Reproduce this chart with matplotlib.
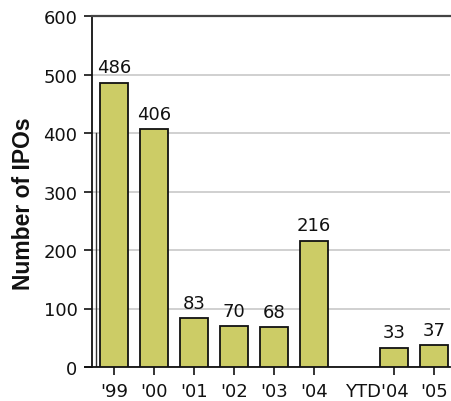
import matplotlib
matplotlib.use("Agg")
import matplotlib.pyplot as plt
import matplotlib.transforms as mtransforms

# IPO counts by year
categories = ["'99", "'00", "'01", "'02", "'03", "'04", "YTD'04", "'05"]
positions = [0, 1, 2, 3, 4, 5, 7, 8]
ipo_counts = [486, 406, 83, 70, 68, 216, 33, 37]
y_ticks = [0, 100, 200, 300, 400, 500, 600]

fig = plt.figure(figsize=(4.51, 4.02), dpi=100)
ax = fig.add_axes([92 / 451, 1 - 368 / 402, (450 - 92) / 451, (368 - 17) / 402])

bars = ax.bar(positions, ipo_counts, width=0.7, color="#CCCC66",
              edgecolor="#111111", linewidth=1.3, zorder=3)

for x, v in zip(positions, ipo_counts):
    ax.annotate(str(v), (x, v), xytext=(0, 4.5), textcoords="offset points",
                ha="center", va="bottom", fontsize=13, color="#111111")

ax.set_xlim(-0.55, 8.4)
ax.set_ylim(0, 600)
ax.set_yticks(y_ticks)
ax.set_xticks(positions)
ax.set_xticklabels(categories)

ax.yaxis.grid(True, color="#c8c8c8", linewidth=1.2, zorder=0)
ax.set_axisbelow(True)

ax.spines["right"].set_visible(False)
ax.spines["top"].set_color("#444444")
ax.spines["top"].set_linewidth(1.6)
ax.spines["left"].set_color("#111111")
ax.spines["left"].set_linewidth(1.3)
ax.spines["bottom"].set_color("#111111")
ax.spines["bottom"].set_linewidth(1.3)
ax.spines["bottom"].set_bounds(-0.55 - 7 / 40, 8.4)
ax.spines["bottom"].set_clip_on(False)

# inner rule alongside the value axis
ax.plot([-0.55 + 3.5 / 40] * 2, [0, 400], color="#333333", linewidth=1.0,
        zorder=2)

ax.tick_params(axis="y", direction="out", length=5.5, width=1.2,
               pad=5, labelsize=13, colors="#111111")
ax.tick_params(axis="x", direction="out", length=5.5, width=1.2,
               pad=5, labelsize=13, colors="#111111")

# nudge the YTD label left so it clears its neighbour
ytd_label = ax.get_xticklabels()[6]
ytd_label.set_transform(ytd_label.get_transform() +
                        mtransforms.ScaledTranslation(-17 / 100, 0, fig.dpi_scale_trans))

fig.text(24 / 451, 1 - 204 / 402, "Number of IPOs", rotation=90,
         ha="center", va="center", fontsize=16.5, fontweight="bold",
         family="Liberation Sans", color="#111111")

fig.savefig("out.png", dpi=100)
